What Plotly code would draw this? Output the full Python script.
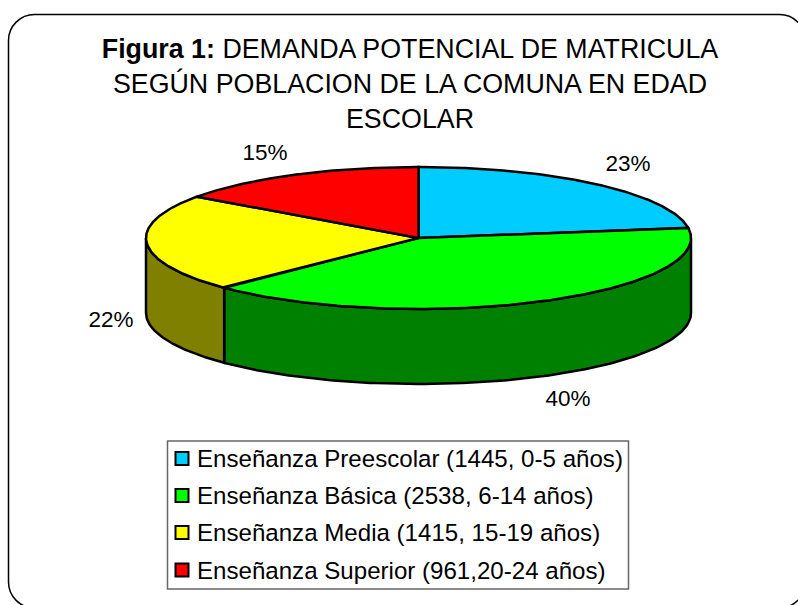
import numpy as np
import plotly.graph_objects as go

categories = ["Enseñanza Preescolar (1445, 0-5 años)", "Enseñanza Básica (2538, 6-14 años)",
              "Enseñanza Media (1415, 15-19 años)", "Enseñanza Superior (961,20-24 años)"]
values = [1445, 2538, 1415, 961]
top_colors = ["#00CCFF", "#00FF00", "#FFFF00", "#FF0000"]
side_colors = ["#0066A0", "#008000", "#808000", "#800000"]

W, H = 798, 605
CX, CY, RX, RY, DEPTH = 418.5, 238, 272.5, 71, 75
FONT = "Liberation Sans, Arial, sans-serif"
LABEL_XY = [(628, 165), (568, 400), (111, 321), (265, 154)]
LEG_Y = [458.5, 495.5, 532.5, 570]
LEG_X = 182
LEG_TEXT_X = 197
LEG_TEXT_DY = 2.5

def ex(t): return CX + RX * np.sin(t)
def ey(t): return CY - RY * np.cos(t)

total = sum(values)
bounds = np.concatenate([[0], np.cumsum(values)]) / total * 2 * np.pi
fig = go.Figure()
line = dict(color="black", width=2.5)

# side wall (front half of the cylinder only)
for i in range(len(values)):
    a, b = max(bounds[i], np.pi / 2), min(bounds[i + 1], 3 * np.pi / 2)
    if b <= a:
        continue
    t = np.linspace(a, b, 120)
    xs = np.concatenate([ex(t), ex(t[::-1]), [ex(t[0])]])
    ys = np.concatenate([ey(t), ey(t[::-1]) + DEPTH, [ey(t[0])]])
    fig.add_trace(go.Scatter(x=xs, y=ys, mode="lines", fill="toself", fillcolor=side_colors[i],
                             line=line, hoverinfo="skip", showlegend=False))

# top face slices
for i in range(len(values)):
    t = np.linspace(bounds[i], bounds[i + 1], 200)
    xs = np.concatenate([[CX], ex(t), [CX]])
    ys = np.concatenate([[CY], ey(t), [CY]])
    fig.add_trace(go.Scatter(x=xs, y=ys, mode="lines", fill="toself", fillcolor=top_colors[i],
                             line=line, name=categories[i], showlegend=False,
                             hovertemplate=f"{categories[i]}<extra></extra>"))

# percentage labels
fig.add_trace(go.Scatter(x=[p[0] for p in LABEL_XY], y=[p[1] for p in LABEL_XY], mode="text",
                         text=[f"{round(100 * v / total)}%" for v in values],
                         textposition="middle center",
                         textfont=dict(family=FONT, size=22.5, color="black"),
                         hoverinfo="skip", showlegend=False))

# legend
fig.add_trace(go.Scatter(x=[LEG_X] * 4, y=LEG_Y, mode="markers",
                         marker=dict(symbol="square", size=13, color=top_colors,
                                     line=dict(color="black", width=2)),
                         hoverinfo="skip", showlegend=False))
fig.add_trace(go.Scatter(x=[LEG_TEXT_X] * 4, y=[y + LEG_TEXT_DY for y in LEG_Y], mode="text", text=categories,
                         textposition="middle right",
                         textfont=dict(family=FONT, size=24.1, color="black"),
                         hoverinfo="skip", showlegend=False))

r = 26
k = r * 0.45
x0, y0, x1, y1 = 8.5, 14.5, 805.5, 608
fig.update_layout(
    width=W, height=H, margin=dict(l=0, r=0, t=0, b=0),
    paper_bgcolor="white", plot_bgcolor="white", showlegend=False,
    xaxis=dict(range=[0, W], visible=False, fixedrange=True),
    yaxis=dict(range=[H, 0], visible=False, fixedrange=True),
    title=dict(text="<b>Figura 1:</b> DEMANDA POTENCIAL DE MATRICULA<br>SEGÚN POBLACION DE LA COMUNA EN EDAD<br>ESCOLAR",
               x=410 / W, xanchor="center", y=1 - 58 / H, yanchor="middle",
               font=dict(family=FONT, size=26.8, color="black")),
    shapes=[
        dict(type="path", xref="x", yref="y", layer="below",
             path=(f"M {x0} {y0 + r} C {x0} {y0 + k} {x0 + k} {y0} {x0 + r} {y0} L {x1 - r} {y0} "
                   f"C {x1 - k} {y0} {x1} {y0 + k} {x1} {y0 + r} L {x1} {y1 - r} "
                   f"C {x1} {y1 - k} {x1 - k} {y1} {x1 - r} {y1} L {x0 + r} {y1} "
                   f"C {x0 + k} {y1} {x0} {y1 - k} {x0} {y1 - r} Z"),
             line=dict(color="black", width=1.5), fillcolor="white"),
        dict(type="rect", xref="x", yref="y", x0=167.5, x1=628.5, y0=441, y1=589, layer="below",
             line=dict(color="#666666", width=1.5), fillcolor="white"),
    ],
)
fig.write_html("out.html", config={"displayModeBar": False},
               post_script="document.body.style.margin='0';document.body.style.overflow='hidden';")
